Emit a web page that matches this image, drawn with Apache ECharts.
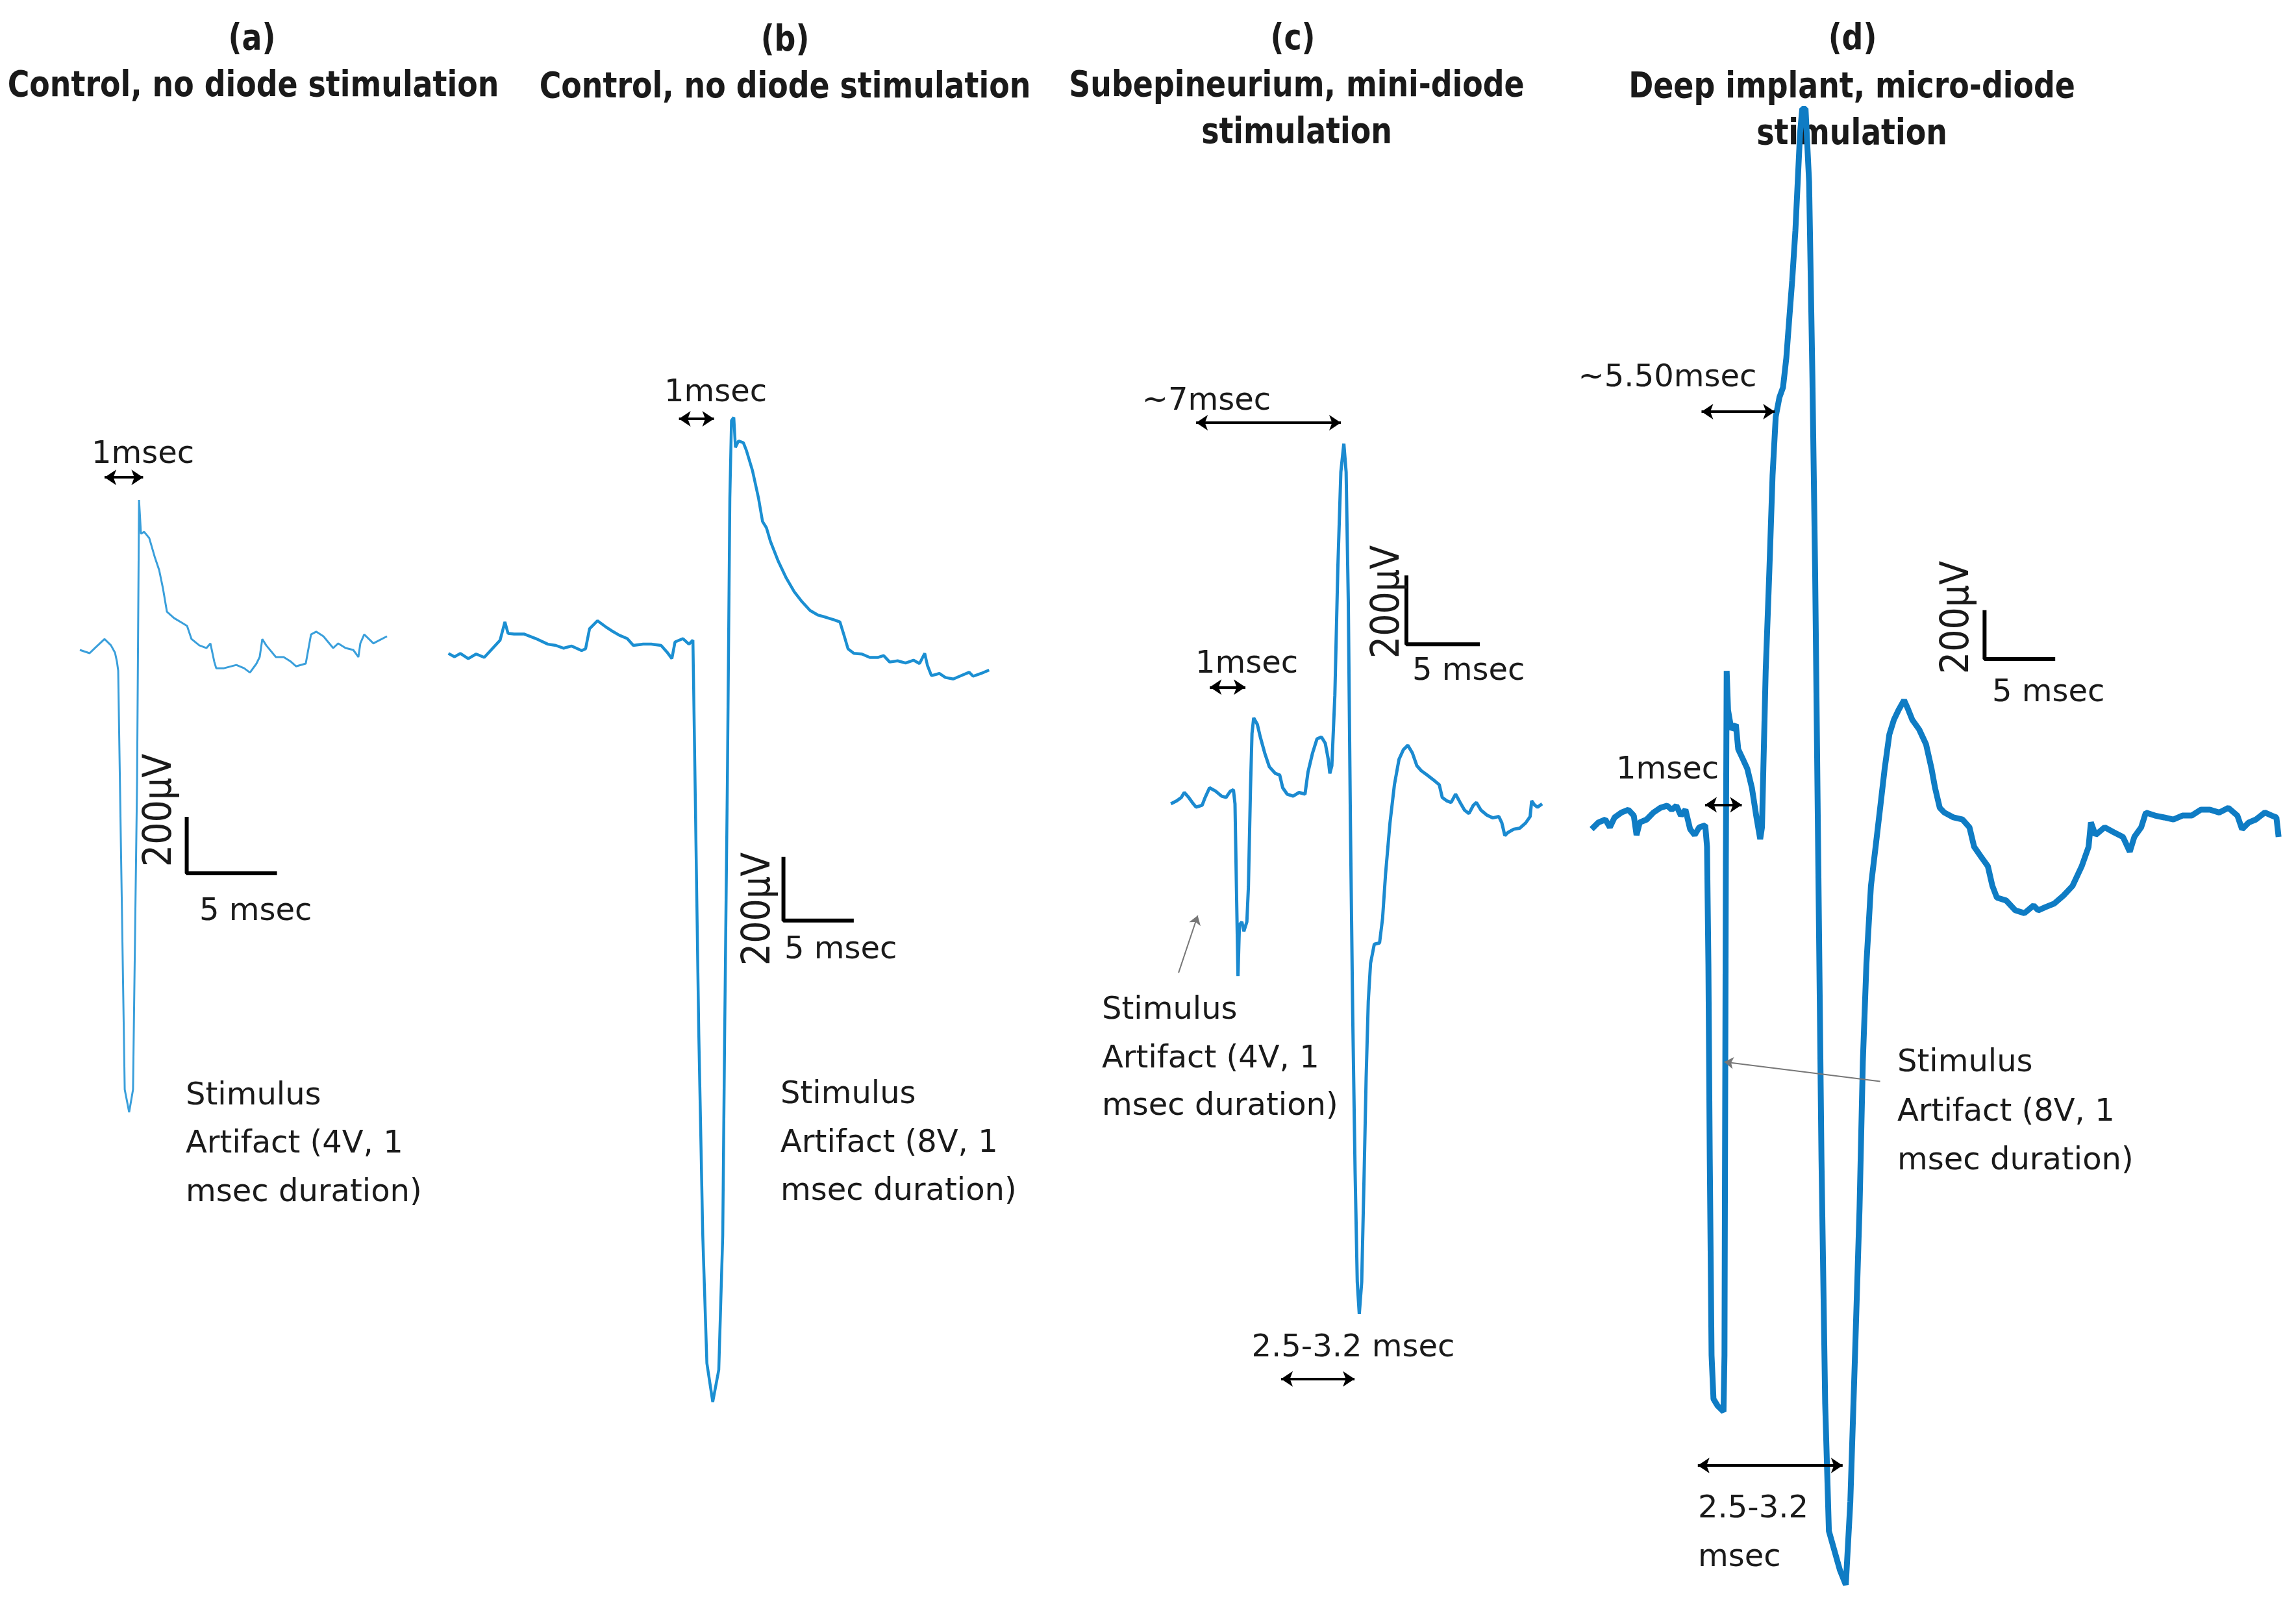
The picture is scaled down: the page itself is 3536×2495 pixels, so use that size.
<!DOCTYPE html>
<html>
<head>
<meta charset="utf-8">
<title>Nerve response traces</title>
<script src="https://cdn.jsdelivr.net/npm/echarts@6/dist/echarts.min.js"></script>
<style>
  html, body { margin: 0; padding: 0; background: #fff; }
  #chart { width: 3536px; height: 2495px; }
</style>
</head>
<body>
<div id="chart"></div>
<script>
const timeA = [0,0.55,0.85,1.4,1.76,1.99,2.1,2.17,2.54,2.79,3.01,3.24,3.35,3.46,3.64,3.93,4.23,4.49,4.71,4.93,5.33,5.77,6.07,6.32,6.76,7.17,7.39,7.61,7.72,8.16,8.86,9.3,9.63,10.0,10.18,10.33,10.55,11.1,11.54,11.95,12.24,12.79,13.09,13.38,13.79,14.34,14.63,15.04,15.48,15.77,15.88,16.1,16.62,16.88,17.39]
const voltA = [0,-12,7,40,17,-10,-43,-76,-1612,-1695,-1612,-476,550,426,433,410,343,293,224,140,117,100,88,40,17,7,24,-43,-67,-67,-55,-67,-83,-50,-26,40,17,-26,-26,-43,-60,-50,57,67,50,7,24,7,0,-26,24,57,24,33,50]

const timeB = [0,0.44,0.87,1.45,2.03,2.62,3.2,3.78,4.13,4.36,4.8,5.52,6.4,7.27,7.85,8.43,9.01,9.74,10.03,10.32,10.9,11.48,11.92,12.5,13.08,13.52,14.24,14.83,15.55,15.99,16.34,16.57,17.15,17.59,17.88,18.02,18.31,18.6,18.9,19.33,19.77,20.06,20.2,20.41,20.58,20.7,20.87,20.99,21.22,21.57,21.8,22.24,22.67,22.97,23.26,23.55,24.13,24.71,25.29,25.87,26.45,27.04,27.62,28.2,28.63,28.93,29.22,29.65,30.23,30.81,31.4,31.83,32.27,32.85,33.43,34.01,34.45,34.83,35.03,35.32,35.9,36.34,36.92,37.5,38.08,38.37,38.95,39.54]
const voltB = [-26,-37,-26,-43,-28,-39,-11,17,76,39,37,37,22,4,0,-9,-2,-17,-11,54,80,61,48,33,22,0,4,4,0,-22,-43,11,22,4,17,-392,-1262,-1914,-2327,-2453,-2349,-1914,-1262,-392,478,729,739,642,663,657,631,566,479,402,381,337,272,218,174,141,113,98,91,83,76,33,-11,-26,-28,-39,-39,-33,-54,-50,-57,-48,-59,-26,-65,-98,-91,-104,-109,-98,-87,-100,-91,-80]

const timeC = [0,0.42,0.73,0.94,1.25,1.57,1.77,2.19,2.4,2.71,3.13,3.55,3.86,4.17,4.38,4.49,4.59,4.7,4.8,4.97,5.11,5.32,5.43,5.57,5.68,5.8,6.05,6.26,6.57,6.89,7.31,7.62,7.83,8.14,8.56,8.98,9.39,9.6,9.92,10.23,10.54,10.81,11.02,11.13,11.27,11.48,11.69,11.9,12.11,12.27,12.42,12.57,12.73,12.9,13.05,13.19,13.36,13.53,13.67,13.82,13.98,14.24,14.61,14.82,15.03,15.34,15.65,15.97,16.28,16.59,16.91,17.22,17.53,17.95,18.37,18.79,19.0,19.31,19.62,19.93,20.25,20.56,20.87,21.18,21.39,21.71,22.13,22.54,22.96,23.17,23.38,23.59,24.0,24.42,24.84,25.15,25.26,25.47,25.67,25.99]
const voltC = [-19,-10,0,15,0,-19,-29,-23,0,29,19,4,0,19,23,-19,-267,-534,-381,-372,-400,-372,-267,19,191,238,219,181,133,92,72,67,29,10,4,15,10,76,133,175,181,162,114,72,95,305,687,973,1058,973,591,-76,-648,-1125,-1449,-1545,-1449,-1125,-839,-610,-496,-439,-435,-362,-229,-76,38,114,143,156,133,95,80,67,53,38,0,-10,-15,10,-15,-38,-48,-23,-15,-38,-53,-61,-57,-76,-114,-105,-95,-92,-76,-57,-10,-23,-29,-19]

const timeD = [0,0.5,1.0,1.33,1.67,2.17,2.67,3.07,3.27,3.5,4.0,4.5,5.0,5.5,5.83,6.17,6.5,6.83,7.17,7.5,7.83,8.27,8.4,8.5,8.6,8.73,8.87,9.17,9.6,9.67,9.73,9.77,9.83,9.93,10.17,10.5,10.67,11.0,11.33,11.67,12.0,12.27,12.4,12.5,12.67,12.93,13.17,13.4,13.67,13.93,14.17,14.33,14.6,14.83,15.0,15.17,15.33,15.57,15.83,16.07,16.27,16.5,16.73,17.0,17.27,17.67,18.07,18.5,18.83,19.17,19.5,19.74,20.0,20.33,20.67,21.0,21.33,21.67,22.0,22.34,22.74,23.0,23.34,23.84,24.34,24.74,25.0,25.34,25.67,26.34,27.0,27.5,27.84,28.34,28.84,29.17,29.5,30.17,30.84,31.5,32.17,32.5,33.0,33.67,34.34,35.0,35.67,36.17,36.34,36.67,37.34,38.0,38.67,39.17,39.5,40.0,40.34,41.0,41.67,42.34,43.0,43.67,44.34,45.0,45.67,46.34,47.0,47.34,47.84,48.34,49.0,49.5,49.84,50.0]
const voltD = [-29,0,12,-21,21,42,54,29,-54,0,12,42,62,71,54,71,29,54,-29,-54,-21,-12,-104,-604,-1437,-2271,-2458,-2487,-2512,-2271,-1021,-187,646,479,396,417,312,271,229,146,21,-71,-21,229,646,1062,1479,1729,1812,1854,1979,2104,2312,2521,2729,2937,3042,3042,2729,1896,1062,-187,-1437,-2479,-3021,-3104,-3187,-3250,-2896,-2271,-1646,-1021,-604,-271,-104,62,229,375,437,479,521,487,437,396,333,229,146,62,42,21,12,-21,-104,-146,-187,-271,-321,-333,-375,-387,-354,-375,-362,-346,-312,-271,-187,-104,0,-54,-21,-42,-62,-125,-62,-21,42,29,21,12,29,29,54,54,42,62,29,-29,0,12,42,29,21,-62]

// scale bar corner [msec, µV] per panel (5 msec x 200 µV)
const scaleBars = [[6.05, -819], [24.5, -892], [16.49, 458], [28.6, 696]]

// double arrows [panel, t1, t2, µV]
const spanArrows = [
  [0, 1.4, 3.58, 633],
  [1, 16.86, 19.42, 735],
  [2, 1.77, 11.9, 1121],
  [2, 2.73, 5.22, 330],
  [2, 7.72, 12.86, -1739],
  [3, 8.0, 13.33, 1751],
  [3, 8.26, 10.93, 75],
  [3, 7.73, 18.27, -2741]
]
// pointer arrows [panel, [t, µV] from, [t, µV] to]
const pointers = [
  [2, [0.54, -524], [1.88, -353]],
  [3, [21.0, -1104], [9.66, -1021]]
]

// panel placement: pixel of (0 msec, 0 µV), pixels per msec / per µV, axis ranges
const panels = [
  { x0: 123, y0: 1001, pxMs: 27.2, pxUv: 0.42, t: [-1, 18], v: [-1800, 1000], color: '#3a9fdb', width: 3 },
  { x0: 690.6, y0: 994, pxMs: 21.06, pxUv: 0.475, t: [-1, 41], v: [-2600, 900], color: '#1b8fd2', width: 4.5 },
  { x0: 1803.2, y0: 1228.2, pxMs: 22, pxUv: 0.515, t: [-1, 27], v: [-1900, 1200], color: '#1b8ad0', width: 5 },
  { x0: 2451.2, y0: 1268.8, pxMs: 21.16, pxUv: 0.362, t: [-1, 51], v: [-3400, 3200], color: '#0f7cc4', width: 9 }
]
const traces = [[timeA, voltA], [timeB, voltB], [timeC, voltC], [timeD, voltD]]

const chart = echarts.init(document.getElementById('chart'))

const grid = panels.map((p) => ({
  left: p.x0 + p.t[0] * p.pxMs,
  top: p.y0 - p.v[1] * p.pxUv,
  width: (p.t[1] - p.t[0]) * p.pxMs,
  height: (p.v[1] - p.v[0]) * p.pxUv
}))
const xAxis = panels.map((p, i) => ({ type: 'value', gridIndex: i, min: p.t[0], max: p.t[1], show: false }))
const yAxis = panels.map((p, i) => ({ type: 'value', gridIndex: i, min: p.v[0], max: p.v[1], show: false }))

const series = []
traces.forEach(([t, v], i) => {
  series.push({
    type: 'line',
    xAxisIndex: i,
    yAxisIndex: i,
    showSymbol: false,
    data: t.map((x, k) => [x, v[k]]),
    lineStyle: { color: panels[i].color, width: panels[i].width },
    z: 3
  })
})
scaleBars.forEach(([t, v], i) => {
  series.push({
    type: 'line',
    xAxisIndex: i,
    yAxisIndex: i,
    showSymbol: false,
    data: [[t, v + 200], [t, v], [t + 5, v]],
    lineStyle: { color: '#000', width: 6, cap: 'square' },
    z: 3
  })
})
spanArrows.forEach(([i, t1, t2, v]) => {
  series.push({
    type: 'lines',
    coordinateSystem: 'cartesian2d',
    xAxisIndex: i,
    yAxisIndex: i,
    symbol: ['arrow', 'arrow'],
    symbolSize: 18,
    lineStyle: { color: '#000', width: 4, opacity: 1 },
    data: [{ coords: [[t1, v], [t2, v]] }],
    z: 4
  })
})
pointers.forEach(([i, from, to]) => {
  series.push({
    type: 'lines',
    coordinateSystem: 'cartesian2d',
    xAxisIndex: i,
    yAxisIndex: i,
    symbol: ['none', 'arrow'],
    symbolSize: 14,
    lineStyle: { color: '#777', width: 2, opacity: 1 },
    itemStyle: { color: '#000' },
    data: [{ coords: [from, to] }],
    z: 4
  })
})

// text helpers
const TITLE_FONT = 'bold 56px "Liberation Sans Narrow", "DejaVu Sans Condensed", sans-serif'
const NOTE_FONT = '48px "DejaVu Sans", sans-serif'
const UV_FONT = '60px "Liberation Sans Narrow", "DejaVu Sans Condensed", sans-serif'

function txt(x, y, text, font, align, extra) {
  return Object.assign({
    type: 'text',
    x: x,
    y: y,
    z: 1,
    style: { text: text, font: font, fill: '#1a1a1a', align: align || 'center', verticalAlign: 'middle' }
  }, extra || {})
}

const titles = [
  [388, 61, '(a)'], [390, 133, 'Control, no diode stimulation'],
  [1209, 63, '(b)'], [1209, 135, 'Control, no diode stimulation'],
  [1991, 61, '(c)'], [1997, 133, 'Subepineurium, mini-diode'], [1997, 205, 'stimulation'],
  [2853, 61, '(d)'], [2852, 135, 'Deep implant, micro-diode'], [2852, 207, 'stimulation']
]
const notes = [
  [220, 701, '1msec', 'center'],
  [307, 1405, '5 msec', 'left'],
  [286, 1689, 'Stimulus', 'left'], [286, 1763, 'Artifact (4V, 1', 'left'], [286, 1838, 'msec duration)', 'left'],
  [1102, 606, '1msec', 'center'],
  [1208, 1464, '5 msec', 'left'],
  [1202, 1687, 'Stimulus', 'left'], [1202, 1762, 'Artifact (8V, 1', 'left'], [1202, 1836, 'msec duration)', 'left'],
  [1858, 619, '~7msec', 'center'],
  [1920, 1024, '1msec', 'center'],
  [2175, 1035, '5 msec', 'left'],
  [1697, 1557, 'Stimulus', 'left'], [1697, 1632, 'Artifact (4V, 1', 'left'], [1697, 1705, 'msec duration)', 'left'],
  [2084, 2077, '2.5-3.2 msec', 'center'],
  [2568, 583, '~5.50msec', 'center'],
  [2568, 1187, '1msec', 'center'],
  [3068, 1068, '5 msec', 'left'],
  [2922, 1638, 'Stimulus', 'left'], [2922, 1714, 'Artifact (8V, 1', 'left'], [2922, 1789, 'msec duration)', 'left'],
  [2615, 2325, '2.5-3.2', 'left'], [2615, 2400, 'msec', 'left']
]
const uvLabels = [[247, 1248], [1169, 1400], [2138, 927], [3015, 951]]

const graphic = []
titles.forEach(([x, y, s]) => graphic.push(txt(x, y, s, TITLE_FONT, 'center', { z: 0, scaleX: 0.91 })))
notes.forEach(([x, y, s, a]) => graphic.push(txt(x, y, s, NOTE_FONT, a, { z: 5 })))
uvLabels.forEach(([x, y]) => graphic.push(txt(x, y, '200µV', UV_FONT, 'center', { rotation: Math.PI / 2, z: 5 })))

chart.setOption({
  backgroundColor: '#fff',
  animation: false,
  grid: grid,
  xAxis: xAxis,
  yAxis: yAxis,
  series: series,
  graphic: graphic
})
</script>
</body>
</html>
